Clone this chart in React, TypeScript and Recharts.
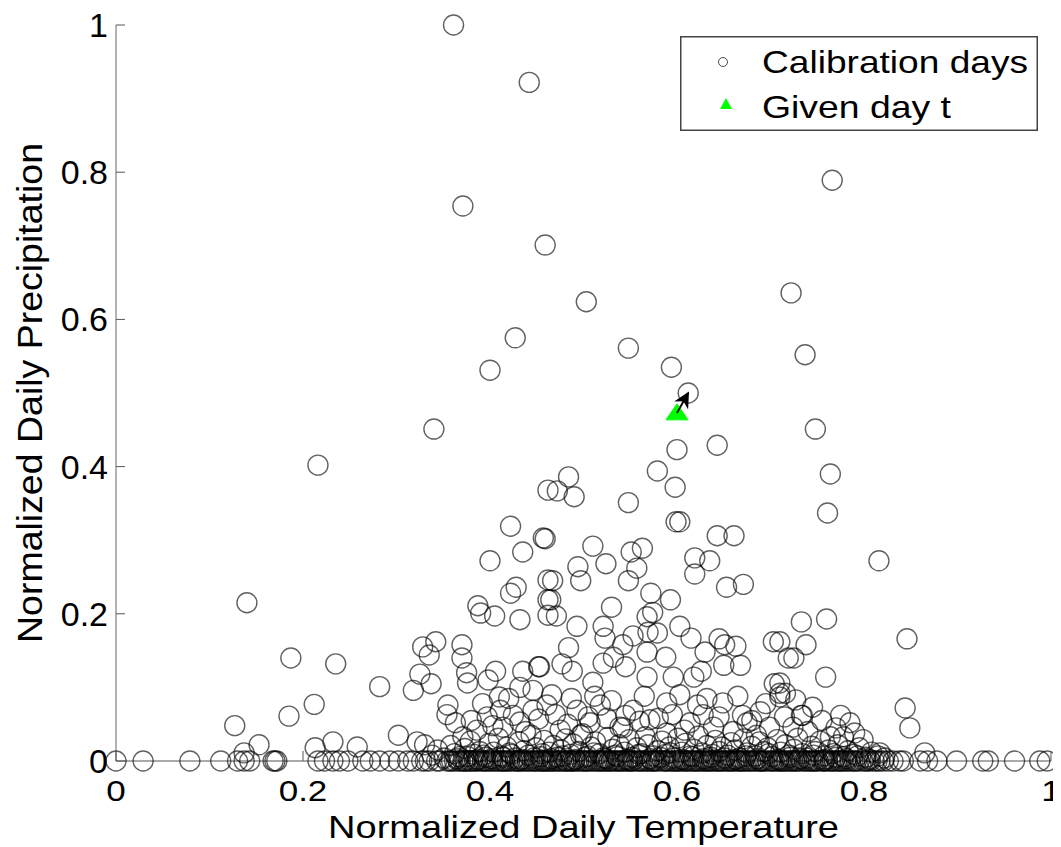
import React from 'react';
import { ScatterChart, Scatter, XAxis, YAxis, Legend } from 'recharts';

// ---------- data ----------
const upperX = [0.361, 0.442, 0.766, 0.371, 0.459, 0.722, 0.503, 0.427, 0.548, 0.737, 0.594, 0.400, 0.612, 0.340, 0.748, 0.600, 0.643, 0.216];
const upperY = [1.0, 0.922, 0.789, 0.754, 0.701, 0.636, 0.624, 0.575, 0.561, 0.552, 0.535, 0.531, 0.500, 0.451, 0.451, 0.423, 0.429, 0.402];

const midX = [0.462, 0.422, 0.457, 0.435, 0.400, 0.428, 0.422, 0.462, 0.462, 0.387, 0.390, 0.405, 0.432, 0.462, 0.235, 0.328, 0.342, 0.335, 0.370, 0.370, 0.325, 0.337, 0.282, 0.318, 0.375, 0.376, 0.398, 0.406, 0.435, 0.452, 0.446,
  0.579, 0.598, 0.484, 0.472, 0.490, 0.548, 0.599, 0.603, 0.643, 0.661, 0.459, 0.510, 0.551, 0.563, 0.619, 0.635, 0.619, 0.494, 0.524, 0.557, 0.497, 0.548, 0.467, 0.653, 0.671, 0.572, 0.593, 0.465, 0.530, 0.471, 0.493, 0.568, 0.574, 0.521, 0.523, 0.553, 0.569, 0.579, 0.603, 0.615, 0.645, 0.651, 0.663, 0.703, 0.719, 0.484, 0.542, 0.568, 0.588, 0.630, 0.650, 0.668, 0.477, 0.521, 0.545, 0.453, 0.488, 0.532, 0.596, 0.626, 0.618, 0.704, 0.710, 0.568, 0.510,
  0.764, 0.761, 0.816, 0.760, 0.733, 0.738, 0.725, 0.846, 0.759, 0.710, 0.710, 0.716,
  0.140, 0.187, 0.185, 0.127, 0.153, 0.137, 0.212, 0.213, 0.232, 0.258, 0.302,
  0.355, 0.410, 0.432];
const midY = [0.368, 0.319, 0.303, 0.284, 0.272, 0.236, 0.228, 0.246, 0.219, 0.211, 0.201, 0.197, 0.192, 0.198, 0.132, 0.155, 0.162, 0.144, 0.158, 0.140, 0.118, 0.105, 0.101, 0.096, 0.120, 0.106, 0.110, 0.122, 0.122, 0.128, 0.096,
  0.394, 0.372, 0.386, 0.367, 0.359, 0.351, 0.325, 0.325, 0.306, 0.306, 0.302, 0.292, 0.284, 0.289, 0.276, 0.272, 0.254, 0.264, 0.268, 0.262, 0.245, 0.245, 0.245, 0.236, 0.240, 0.228, 0.219, 0.219, 0.209, 0.197, 0.183, 0.196, 0.202, 0.183, 0.167, 0.170, 0.175, 0.174, 0.183, 0.167, 0.166, 0.158, 0.156, 0.162, 0.140, 0.154, 0.158, 0.148, 0.141, 0.148, 0.130, 0.130, 0.132, 0.133, 0.128, 0.128, 0.122, 0.141, 0.114, 0.122, 0.114, 0.105, 0.092, 0.114, 0.107,
  0.390, 0.337, 0.272, 0.193, 0.189, 0.158, 0.140, 0.166, 0.114, 0.162, 0.106, 0.092,
  0.215, 0.140, 0.061, 0.048, 0.022, 0.011, 0.077, 0.018, 0.026, 0.019, 0.035,
  0.076, 0.087, 0.100];

const lowX = [0.322, 0.330, 0.354, 0.363, 0.371, 0.386, 0.397, 0.411, 0.414, 0.432, 0.446, 0.461, 0.475, 0.493, 0.507, 0.518, 0.539, 0.542, 0.553, 0.571, 0.589, 0.589,
  0.622, 0.649, 0.670, 0.689, 0.710, 0.734, 0.745, 0.724, 0.699, 0.675, 0.639, 0.614, 0.764, 0.778, 0.799, 0.775, 0.844, 0.849, 0.865, 0.817, 0.733,
  0.380, 0.392, 0.403, 0.420, 0.425, 0.438, 0.452, 0.466, 0.470, 0.483, 0.487, 0.497, 0.505, 0.512, 0.525, 0.530, 0.545, 0.560, 0.565, 0.580, 0.595, 0.603, 0.608, 0.628, 0.632, 0.645, 0.660, 0.665, 0.680, 0.685, 0.695, 0.715, 0.727, 0.740, 0.755, 0.770, 0.785, 0.790];
const lowY = [0.026, 0.022, 0.063, 0.052, 0.033, 0.042, 0.060, 0.069, 0.046, 0.053, 0.069, 0.076, 0.042, 0.069, 0.052, 0.076, 0.046, 0.045, 0.069, 0.056, 0.038, 0.079,
  0.076, 0.079, 0.062, 0.067, 0.087, 0.062, 0.073, 0.046, 0.046, 0.052, 0.046, 0.052, 0.033, 0.033, 0.029, 0.062, 0.072, 0.045, 0.011, 0.011, 0.062,
  0.055, 0.078, 0.048, 0.085, 0.062, 0.040, 0.057, 0.090, 0.063, 0.050, 0.085, 0.035, 0.060, 0.088, 0.058, 0.082, 0.062, 0.054, 0.088, 0.058, 0.063, 0.090, 0.042, 0.063, 0.085, 0.060, 0.040, 0.088, 0.055, 0.035, 0.078, 0.060, 0.083, 0.040, 0.055, 0.045, 0.052, 0.038];

const nearZeroX = [0.338, 0.344, 0.351, 0.358, 0.362, 0.367, 0.373, 0.379, 0.383, 0.389, 0.395, 0.399, 0.404, 0.409, 0.412, 0.418, 0.421, 0.427, 0.431, 0.436, 0.441, 0.444, 0.449, 0.454, 0.458, 0.463, 0.468, 0.472, 0.476, 0.481, 0.486, 0.489, 0.495, 0.499, 0.504, 0.508, 0.513, 0.517, 0.521, 0.526, 0.531, 0.534, 0.538, 0.544, 0.549, 0.552, 0.557, 0.562, 0.566, 0.569, 0.575, 0.579, 0.584, 0.588, 0.592, 0.597, 0.601, 0.605, 0.609, 0.614, 0.618, 0.623, 0.627, 0.632, 0.636, 0.641, 0.645, 0.648, 0.654, 0.658, 0.662, 0.667, 0.671, 0.675, 0.680, 0.684, 0.688, 0.693, 0.697, 0.702, 0.707, 0.711, 0.716, 0.720, 0.725, 0.729, 0.734, 0.739, 0.744, 0.748, 0.753, 0.757, 0.762, 0.767, 0.772, 0.778, 0.783, 0.789, 0.795, 0.802, 0.808, 0.815, 0.822,
  0.365, 0.376, 0.387, 0.393, 0.402, 0.414, 0.423, 0.434, 0.447, 0.456, 0.466, 0.478, 0.491, 0.502, 0.511, 0.524, 0.536, 0.547, 0.559, 0.571, 0.582, 0.593, 0.606, 0.617, 0.629, 0.638, 0.651, 0.663, 0.674, 0.686, 0.698, 0.709, 0.721, 0.732, 0.746, 0.758, 0.770, 0.781, 0.793, 0.806];
const nearZeroY = [0.008, 0.015, 0.004, 0.021, 0.010, 0.006, 0.017, 0.027, 0.009, 0.013, 0.005, 0.024, 0.012, 0.031, 0.007, 0.019, 0.011, 0.004, 0.026, 0.014, 0.008, 0.035, 0.018, 0.006, 0.028, 0.012, 0.021, 0.005, 0.015, 0.030, 0.009, 0.023, 0.013, 0.037, 0.007, 0.019, 0.026, 0.010, 0.004, 0.032, 0.016, 0.008, 0.022, 0.012, 0.029, 0.005, 0.018, 0.010, 0.033, 0.022, 0.007, 0.014, 0.027, 0.009, 0.019, 0.004, 0.031, 0.012, 0.024, 0.007, 0.016, 0.034, 0.011, 0.021, 0.005, 0.028, 0.013, 0.019, 0.008, 0.025, 0.015, 0.004, 0.030, 0.011, 0.020, 0.007, 0.026, 0.013, 0.018, 0.006, 0.029, 0.012, 0.022, 0.008, 0.016, 0.031, 0.010, 0.004, 0.020, 0.013, 0.027, 0.007, 0.015, 0.010, 0.022, 0.006, 0.014, 0.009, 0.018, 0.005, 0.012, 0.007, 0.004,
  0.003, 0.006, 0.002, 0.008, 0.003, 0.005, 0.009, 0.002, 0.004, 0.010, 0.003, 0.007, 0.002, 0.005, 0.011, 0.003, 0.006, 0.002, 0.009, 0.003, 0.005, 0.011, 0.002, 0.006, 0.003, 0.009, 0.004, 0.002, 0.007, 0.003, 0.010, 0.002, 0.005, 0.003, 0.008, 0.002, 0.005, 0.003, 0.007, 0.002];

const zeroRowX = [0, 0.029, 0.079, 0.112, 0.130, 0.137, 0.143, 0.168, 0.170, 0.172, 0.216, 0.223, 0.232, 0.239, 0.248, 0.264, 0.272, 0.282, 0.293, 0.302,
  0.312, 0.318, 0.327, 0.331, 0.335, 0.343, 0.346, 0.354, 0.357, 0.359, 0.366, 0.371, 0.374, 0.377, 0.381, 0.386, 0.392, 0.396, 0.398, 0.403, 0.408, 0.413, 0.416, 0.419, 0.424, 0.429, 0.432, 0.437, 0.442, 0.445, 0.451, 0.456, 0.457, 0.461, 0.467, 0.469, 0.474, 0.479, 0.482, 0.485, 0.490, 0.493, 0.498, 0.502, 0.506, 0.509, 0.514, 0.518, 0.522, 0.527, 0.528, 0.533, 0.537, 0.541, 0.546, 0.550, 0.553, 0.559, 0.563, 0.568, 0.570, 0.576, 0.578, 0.585, 0.589, 0.594, 0.598, 0.602, 0.607, 0.611, 0.616, 0.620, 0.624, 0.629, 0.633, 0.637, 0.642, 0.646, 0.650, 0.655, 0.659, 0.664, 0.668, 0.672, 0.677, 0.682, 0.687, 0.690, 0.694, 0.700, 0.704, 0.709, 0.713, 0.717, 0.722, 0.726, 0.730, 0.736, 0.741, 0.745, 0.749, 0.755, 0.758, 0.764, 0.768, 0.773, 0.777, 0.782, 0.788, 0.792, 0.799, 0.804, 0.811, 0.817, 0.826, 0.831, 0.838, 0.842,
  0.860, 0.868, 0.878, 0.899, 0.927, 0.933, 0.961, 0.988, 0.996,
  0.362, 0.368, 0.373, 0.379, 0.384, 0.389, 0.394, 0.401, 0.406, 0.411, 0.415, 0.421, 0.427, 0.431, 0.435, 0.440, 0.447, 0.449, 0.454, 0.459, 0.463, 0.465, 0.472, 0.476, 0.481, 0.487, 0.488, 0.495, 0.500, 0.504, 0.511, 0.516, 0.520, 0.524, 0.530, 0.535, 0.539, 0.543, 0.548, 0.552, 0.557, 0.561, 0.566, 0.573, 0.574, 0.581, 0.587, 0.591, 0.596, 0.600, 0.604, 0.609, 0.613, 0.618, 0.622, 0.627, 0.631, 0.635, 0.639, 0.644, 0.648, 0.653, 0.657, 0.661, 0.666, 0.670, 0.675, 0.679, 0.684, 0.689, 0.692, 0.697, 0.702, 0.707, 0.711, 0.715, 0.720, 0.724, 0.728, 0.733, 0.738, 0.743, 0.747, 0.751, 0.757, 0.761, 0.766, 0.771, 0.775, 0.780, 0.785, 0.790, 0.795, 0.802, 0.807, 0.814, 0.821];

const givenX = [0.600];
const givenY = [0.473];
const arrowX = [0.600, 0.612];
const arrowY = [0.473, 0.500];

const xTicks = [0, 0.2, 0.4, 0.6, 0.8, 1];
const yTicks = [0, 0.2, 0.4, 0.6, 0.8, 1];
const legendLabels = ['Calibration days', 'Given day t'];
const xTitle = 'Normalized Daily Temperature';
const yTitle = 'Normalized Daily Precipitation';

// ---------- build ----------
const zip = (xs: number[], ys: number[]) => xs.map((x, i) => ({ x, y: ys[i] }));
const calibration = [
  ...zip(upperX, upperY),
  ...zip(midX, midY),
  ...zip(lowX, lowY),
  ...zip(nearZeroX, nearZeroY),
  ...zeroRowX.map((x) => ({ x, y: 0 })),
];
const given = zip(givenX, givenY);
const arrow = zip(arrowX, arrowY);

const FONT = 'Arial, "Liberation Sans", Helvetica, sans-serif';
const fmt = (v: number) => (v === 0 ? '0' : v === 1 ? '1' : String(v));
const labelLen = (s: string, size: number) =>
  s.split('').reduce((a, c) => a + (c === '.' ? 0.278 : 0.556) * size, 0);

const CircleShape = (p: any) => (
  <circle cx={p.cx} cy={p.cy} r={10} fill="none" stroke="#000" strokeOpacity={0.62} strokeWidth={1.4} />
);
const TriangleShape = (p: any) => (
  <polygon
    points={`${p.cx},${p.cy - 9} ${p.cx - 11},${p.cy + 7} ${p.cx + 11},${p.cy + 7}`}
    fill="#00ff00"
    stroke="#00ff00"
    strokeWidth={1}
  />
);
const ArrowShape = (p: any) =>
  p.index === 0 ? (
    <defs>
      <marker id="arrowHead" viewBox="0 0 10 10" refX="9" refY="5" markerWidth="20" markerHeight="16" markerUnits="userSpaceOnUse" orient="auto">
        <path d="M0,0 L10,5 L0,10 L3,5 z" fill="#000" />
      </marker>
    </defs>
  ) : (
    <g />
  );

const XTick = (p: any) => {
  const s = fmt(p.payload.value);
  return (
    <g>
      <line x1={p.x} x2={p.x} y1={p.y - 19} y2={p.y - 29} stroke="#555" strokeWidth={1} />
      <text x={p.x} y={p.y} dy="0.71em" textAnchor="middle" fontSize={30} fontFamily={FONT} fill="#000"
        textLength={labelLen(s, 35)} lengthAdjust="spacingAndGlyphs">
        {s}
      </text>
    </g>
  );
};
const YTick = (p: any) => {
  const s = fmt(p.payload.value);
  return (
    <g>
      <line x1={p.x + 8} x2={p.x + 17} y1={p.y} y2={p.y} stroke="#555" strokeWidth={1} />
      <text x={p.x} y={p.y} dy="0.355em" textAnchor="end" fontSize={34} fontFamily={FONT} fill="#000">
        {s}
      </text>
    </g>
  );
};

const XTitle = (p: any) => {
  const vb = p.viewBox || {};
  return (
    <text x={vb.x + vb.width / 2} y={vb.y + 77} textAnchor="middle" fontSize={32} fontFamily={FONT} fill="#000"
      textLength={511} lengthAdjust="spacingAndGlyphs">
      {xTitle}
    </text>
  );
};
const YTitle = (p: any) => {
  const vb = p.viewBox || {};
  const cy = vb.y + vb.height / 2;
  return (
    <text x={34} y={cy} transform={`rotate(-90, 34, ${cy})`} textAnchor="middle" fontSize={35} fontFamily={FONT} fill="#000"
      textLength={500} lengthAdjust="spacingAndGlyphs">
      {yTitle}
    </text>
  );
};

const LegendBox = () => (
  <svg width={358} height={95} style={{ display: 'block' }}>
    <rect x={0.75} y={0.75} width={356.5} height={93.5} fill="#fff" stroke="#444" strokeWidth={1.5} />
    <circle cx={43} cy={26} r={4.5} fill="none" stroke="#000" strokeOpacity={0.7} strokeWidth={1} />
    <polygon points="46,62 40,73 52,73" fill="#00ff00" />
    <text x={82} y={37} fontSize={32} fontFamily={FONT} fill="#000" textLength={266} lengthAdjust="spacingAndGlyphs">
      {legendLabels[0]}
    </text>
    <text x={82} y={82} fontSize={32} fontFamily={FONT} fill="#000" textLength={189} lengthAdjust="spacingAndGlyphs">
      {legendLabels[1]}
    </text>
  </svg>
);

export default function App() {
  return (
    <div style={{ width: 1053, height: 839, background: '#fff' }}>
      <ScatterChart width={1053} height={839} margin={{ top: 17, right: 10, bottom: 0, left: 0 }}>
        <XAxis
          type="number"
          dataKey="x"
          domain={[0, 1]}
          ticks={xTicks}
          interval={0}
          height={86}
          tickSize={0}
          tickMargin={19}
          tickLine={false}
          axisLine={{ stroke: '#555', strokeWidth: 1 }}
          tick={<XTick />}
          label={<XTitle />}
        />
        <YAxis
          type="number"
          dataKey="y"
          domain={[0, 1]}
          ticks={yTicks}
          interval={0}
          width={108}
          tickSize={0}
          tickMargin={8}
          tickLine={false}
          axisLine={{ stroke: '#666', strokeWidth: 1 }}
          tick={<YTick />}
          label={<YTitle />}
        />
        <Legend
          layout="vertical"
          align="center"
          verticalAlign="middle"
          content={() => <LegendBox />}
          wrapperStyle={{ position: 'absolute', left: 672, top: 28, width: 358, height: 95 }}
        />
        <Scatter name={legendLabels[0]} data={calibration} shape={CircleShape} isAnimationActive={false} />
        <Scatter name={legendLabels[1]} data={given} shape={TriangleShape} isAnimationActive={false} />
        <Scatter
          name="arrow"
          data={arrow}
          shape={ArrowShape}
          line={{ stroke: '#000', strokeWidth: 2, markerEnd: 'url(#arrowHead)' }}
          lineType="joint"
          isAnimationActive={false}
          legendType="none"
        />
      </ScatterChart>
    </div>
  );
}
